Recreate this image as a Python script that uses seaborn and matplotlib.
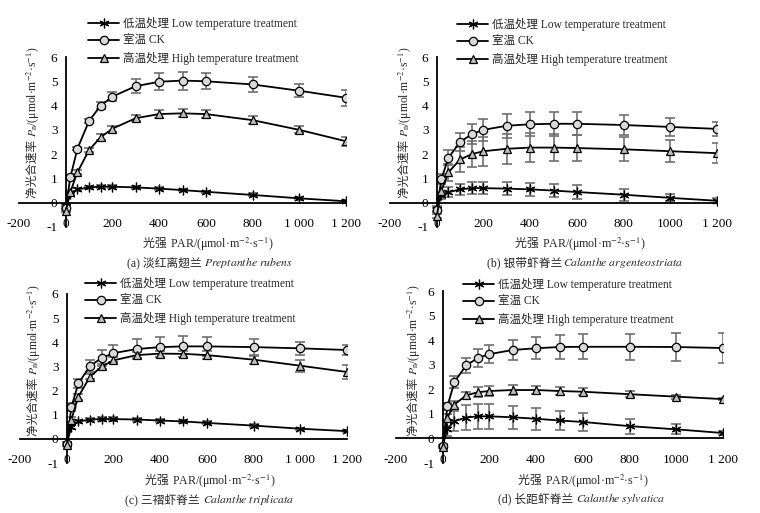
import numpy as np
import pandas as pd
import matplotlib
matplotlib.use("Agg")
import matplotlib.pyplot as plt
import seaborn as sns
from matplotlib.lines import Line2D

sns.set_theme(style="white")
plt.rcParams['font.family'] = ['Liberation Serif', 'Noto Sans CJK SC', 'DejaVu Sans']
plt.rcParams['mathtext.fontset'] = 'stix'

PAR = [0, 20, 50, 100, 150, 200, 300, 400, 500, 600, 800, 1000, 1200]

# panel a
low_a = [-0.15, 0.37, 0.55, 0.63, 0.66, 0.66, 0.63, 0.58, 0.52, 0.45, 0.32, 0.18, 0.06]
ck_a = [-0.2, 1.05, 2.22, 3.37, 4.0, 4.37, 4.8, 4.98, 5.03, 5.0, 4.87, 4.61, 4.32]
high_a = [-0.35, 0.45, 1.25, 2.17, 2.7, 3.05, 3.48, 3.65, 3.68, 3.65, 3.4, 3.0, 2.53]
low_err_a = [0.05, 0.05, 0.05, 0.05, 0.05, 0.05, 0.05, 0.05, 0.05, 0.05, 0.06, 0.06, 0.05]
ck_err_a = [0.05, 0.05, 0.06, 0.08, 0.15, 0.2, 0.3, 0.35, 0.37, 0.33, 0.3, 0.27, 0.33]
high_err_a = [0.05, 0.05, 0.08, 0.1, 0.12, 0.12, 0.12, 0.15, 0.17, 0.15, 0.15, 0.15, 0.18]

# panel b
low_b = [-0.25, 0.3, 0.43, 0.55, 0.6, 0.6, 0.58, 0.55, 0.5, 0.44, 0.33, 0.2, 0.08]
ck_b = [-0.3, 0.97, 1.85, 2.5, 2.82, 3.0, 3.17, 3.23, 3.25, 3.25, 3.2, 3.12, 3.04]
high_b = [-0.55, 0.5, 1.25, 1.78, 2.0, 2.12, 2.22, 2.27, 2.27, 2.25, 2.2, 2.12, 2.04]
low_err_b = [0.1, 0.15, 0.2, 0.22, 0.25, 0.25, 0.27, 0.27, 0.27, 0.27, 0.25, 0.15, 0.1]
ck_err_b = [0.1, 0.2, 0.3, 0.38, 0.42, 0.45, 0.5, 0.5, 0.5, 0.47, 0.42, 0.37, 0.28]
high_err_b = [0.1, 0.3, 0.35, 0.5, 0.55, 0.6, 0.62, 0.6, 0.57, 0.55, 0.5, 0.45, 0.42]

# panel c
low_c = [-0.2, 0.5, 0.72, 0.8, 0.82, 0.82, 0.8, 0.76, 0.72, 0.66, 0.55, 0.42, 0.32]
ck_c = [-0.2, 1.32, 2.3, 3.02, 3.35, 3.55, 3.72, 3.8, 3.83, 3.83, 3.8, 3.75, 3.68]
high_c = [-0.25, 0.8, 1.75, 2.58, 3.0, 3.25, 3.47, 3.53, 3.52, 3.47, 3.28, 3.03, 2.77]
low_err_c = [0.05, 0.08, 0.08, 0.08, 0.08, 0.08, 0.07, 0.07, 0.07, 0.06, 0.06, 0.05, 0.05]
ck_err_c = [0.05, 0.15, 0.2, 0.25, 0.33, 0.35, 0.4, 0.42, 0.42, 0.38, 0.35, 0.27, 0.2]
high_err_c = [0.05, 0.1, 0.12, 0.12, 0.12, 0.12, 0.12, 0.12, 0.12, 0.15, 0.2, 0.25, 0.3]

# panel d
low_d = [-0.3, 0.4, 0.7, 0.85, 0.9, 0.9, 0.86, 0.8, 0.73, 0.67, 0.5, 0.37, 0.22]
ck_d = [-0.3, 1.3, 2.3, 2.97, 3.27, 3.43, 3.6, 3.67, 3.72, 3.73, 3.73, 3.72, 3.68]
high_d = [-0.35, 0.85, 1.38, 1.75, 1.88, 1.93, 1.97, 1.97, 1.93, 1.9, 1.8, 1.7, 1.6]
low_err_d = [0.05, 0.3, 0.4, 0.5, 0.5, 0.5, 0.47, 0.45, 0.4, 0.37, 0.3, 0.2, 0.1]
ck_err_d = [0.05, 0.15, 0.25, 0.3, 0.35, 0.38, 0.42, 0.45, 0.47, 0.5, 0.52, 0.57, 0.6]
high_err_d = [0.05, 0.15, 0.15, 0.15, 0.2, 0.2, 0.2, 0.18, 0.15, 0.15, 0.12, 0.08, 0.05]

series_names = ["低温处理 Low temperature treatment", "室温 CK", "高温处理 High temperature treatment"]
x_ticks = [-200, 0, 200, 400, 600, 800, 1000, 1200]
x_labels_space = ["-200", "0", "200", "400", "600", "800", "1 000", "1 200"]
x_labels_mixed = ["-200", "0", "200", "400", "600", "800", "1000", "1 200"]
y_ticks = [-1, 0, 1, 2, 3, 4, 5, 6]

caption_cn = ["(a) 淡红离翅兰 ", "(b) 银带虾脊兰", "(c) 三褶虾脊兰 ", "(d) 长距虾脊兰 "]
caption_latin = [r"$\mathit{Preptanthe\ rubens}$", r"$\mathit{Calanthe\ argenteostriata}$",
                 r"$\mathit{Calanthe\ triplicata}$", r"$\mathit{Calanthe\ sylvatica}$"]
ylabel_parts = ["净光合速率 ", r"$P_{\rm n}$/(μmol·m$^{-2}$·s$^{-1}$)"]
xlabel_parts = ["光强 ", r"PAR/(μmol·m$^{-2}$·s$^{-1}$)"]

W, H = 760, 513
fig = plt.figure(figsize=(W / 100, H / 100), dpi=100)

def fx(px):
    return px / W

def fy(py):
    return 1 - py / H

panels = [
    dict(rect=(19, 346, 57, 227), data=(low_a, ck_a, high_a), err=(low_err_a, ck_err_a, high_err_a),
         xl=x_labels_space, ylab=(33, 122), xlab=(208, 242), cap=(210, 261), leg=(88, 17)),
    dict(rect=(390, 717, 57, 227), data=(low_b, ck_b, high_b), err=(low_err_b, ck_err_b, high_err_b),
         xl=x_labels_mixed, ylab=(405, 122), xlab=(580, 242), cap=(585, 261), leg=(457, 18)),
    dict(rect=(20, 347, 294, 463), data=(low_c, ck_c, high_c), err=(low_err_c, ck_err_c, high_err_c),
         xl=x_labels_space, ylab=(34, 360), xlab=(210, 479), cap=(210, 498), leg=(85, 277)),
    dict(rect=(396, 723, 291, 463), data=(low_d, ck_d, high_d), err=(low_err_d, ck_err_d, high_err_d),
         xl=x_labels_mixed, ylab=(414, 360), xlab=(583, 479), cap=(582, 497), leg=(463, 278)),
]

markers = [(6, 2, 0), "o", "^"]
msizes = [7, 6, 6]
faces = ["black", "#d9d9d9", "#bfbfbf"]

renderer = fig.canvas.get_renderer()

def place_row(parts, cx, cy, fontsize, rotation=0):
    """Place text pieces next to each other, centred as a whole at pixel (cx, cy)."""
    texts = [fig.text(0, 0, s, fontsize=fontsize, rotation=rotation, ha="left", va="baseline")
             for s in parts]
    sizes = []
    for t in texts:
        bb = t.get_window_extent(renderer)
        sizes.append(bb.height if rotation else bb.width)
    total = sum(sizes)
    if rotation:
        y = (H - cy) - total / 2
        for t, s in zip(texts, sizes):
            t.set_ha("center")
            t.set_va("bottom")
            t.set_position((fx(cx), y / H))
            y += s
    else:
        x = cx - total / 2
        for t, s in zip(texts, sizes):
            t.set_va("center_baseline")
            t.set_position((fx(x), fy(cy)))
            x += s
    return texts

for p in panels:
    l, r, t, b = p["rect"]
    ax = fig.add_axes([fx(l), fy(b), fx(r) - fx(l), fy(t) - fy(b)])
    ax.set_facecolor("none")
    for i, (vals, errs) in enumerate(zip(p["data"], p["err"])):
        ax.errorbar(PAR, vals, yerr=errs, fmt="none", ecolor="#6f6f6f", elinewidth=1.2,
                    capsize=3.5, capthick=1.2, zorder=2)
        df = pd.DataFrame({"PAR": PAR, "Pn": vals})
        sns.lineplot(data=df, x="PAR", y="Pn", ax=ax, color="black", linewidth=1.3,
                     marker=markers[i], markersize=msizes[i], markerfacecolor=faces[i],
                     markeredgecolor="black", markeredgewidth=0.9, zorder=3)
    ax.set_xlim(-200, 1200)
    ax.set_ylim(-1, 6)
    ax.spines["left"].set_position(("data", 0))
    ax.spines["bottom"].set_position(("data", 0))
    ax.spines["top"].set_visible(False)
    ax.spines["right"].set_visible(False)
    for s in ("left", "bottom"):
        ax.spines[s].set_color("black")
        ax.spines[s].set_linewidth(1.3)
    ax.set_xticks(x_ticks)
    ax.set_xticklabels(p["xl"])
    ax.set_yticks(y_ticks)
    ax.set_yticklabels([str(v) for v in y_ticks])
    ax.tick_params(axis="x", direction="out", length=3, width=1, pad=8, labelsize=9.5, colors="black")
    ax.tick_params(axis="y", direction="out", length=3, width=1, pad=3, labelsize=9.5, colors="black")
    ax.set_xlabel("")
    ax.set_ylabel("")
    ax.grid(False)

    handles = [Line2D([0], [0], color="black", lw=1.3, marker=markers[i], markersize=msizes[i],
                      markerfacecolor=faces[i], markeredgecolor="black", markeredgewidth=0.9)
               for i in range(3)]
    fig.legend(handles, series_names, loc="upper left",
               bbox_to_anchor=(fx(p["leg"][0]), fy(p["leg"][1])), frameon=False,
               fontsize=8.3, handlelength=2.7, handletextpad=0.35, labelspacing=0.45,
               borderpad=0, borderaxespad=0)

    place_row(ylabel_parts, p["ylab"][0], p["ylab"][1], 8.4, rotation=90)
    place_row(xlabel_parts, p["xlab"][0], p["xlab"][1], 8.6)

for p, cn, la in zip(panels, caption_cn, caption_latin):
    place_row([cn, la], p["cap"][0], p["cap"][1], 8.5)

fig.savefig("out.png", dpi=100, facecolor="white")
